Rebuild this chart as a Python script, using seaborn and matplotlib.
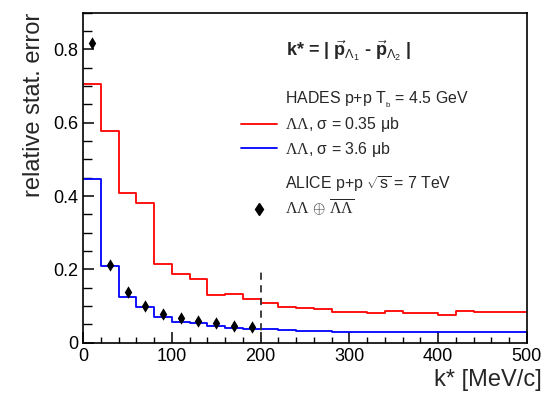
import numpy as np
import seaborn as sns
import matplotlib.pyplot as plt
from matplotlib.lines import Line2D
from matplotlib.ticker import MultipleLocator

# Data
bin_edges = list(range(0, 520, 20))
bin_centers = list(range(10, 500, 20))

hades_035 = [0.706, 0.578, 0.409, 0.380, 0.215, 0.188, 0.173, 0.130, 0.133, 0.120,
             0.108, 0.098, 0.095, 0.092, 0.084, 0.084, 0.082, 0.088, 0.082, 0.082,
             0.075, 0.088, 0.083, 0.083, 0.085]
hades_36 = [0.448, 0.210, 0.126, 0.098, 0.070, 0.058, 0.053, 0.046, 0.040, 0.038,
            0.037, 0.035, 0.033, 0.031, 0.030, 0.030, 0.029, 0.029, 0.029, 0.029,
            0.029, 0.029, 0.029, 0.029, 0.029]

alice_k = [10, 30, 50, 70, 90, 110, 130, 150, 170, 190]
alice_err = [0.817, 0.212, 0.138, 0.101, 0.079, 0.067, 0.059, 0.053, 0.046, 0.044]
alice_unc = [0.010, 0.008, 0.007, 0.007, 0.006, 0.006, 0.006, 0.006, 0.006, 0.006]

cut_k = 200
cut_top = 0.2

sns.set_theme(style="ticks")
plt.rcParams['font.family'] = ['Liberation Sans', 'DejaVu Sans']
plt.rcParams['mathtext.fontset'] = 'custom'
plt.rcParams['mathtext.rm'] = 'Liberation Sans'
plt.rcParams['mathtext.it'] = 'Liberation Sans:italic'
plt.rcParams['mathtext.bf'] = 'Liberation Sans:bold'
plt.rcParams['mathtext.sf'] = 'Liberation Serif'

fig = plt.figure(figsize=(5.47, 4), dpi=100)
ax = fig.add_axes([0.152, 0.143, 0.811, 0.825])

sns.histplot(x=bin_centers, weights=hades_035, bins=bin_edges, element="step",
             fill=False, color="#ff0000", linewidth=1.3, ax=ax)
sns.histplot(x=bin_centers, weights=hades_36, bins=bin_edges, element="step",
             fill=False, color="#0000ff", linewidth=1.3, ax=ax)

ax.errorbar(alice_k, alice_err, yerr=alice_unc, fmt="none", ecolor="black",
            elinewidth=1.0, capsize=0)
sns.scatterplot(x=alice_k, y=alice_err, marker="d", color="black", s=40,
                edgecolor="black", linewidth=0, ax=ax, zorder=5)

ax.vlines(cut_k, 0, cut_top, colors="#333333", linestyles=(0, (4, 3)), linewidth=1.3)

ax.set_xlim(0, 500)
ax.set_ylim(0, 0.9)
ax.xaxis.set_major_locator(MultipleLocator(100))
ax.xaxis.set_minor_locator(MultipleLocator(20))
ax.yaxis.set_major_locator(MultipleLocator(0.2))
ax.yaxis.set_minor_locator(MultipleLocator(0.05))
ax.set_yticks([0, 0.2, 0.4, 0.6, 0.8])
ax.set_yticklabels(["0", "0.2", "0.4", "0.6", "0.8"])
ax.tick_params(which="both", direction="in", bottom=True, left=True,
               top=False, right=False, labelsize=13, colors="black")
ax.tick_params(axis="x", which="major", length=8, width=1.1)
ax.tick_params(axis="x", which="minor", length=4.5, width=1.0)
ax.tick_params(axis="y", which="major", length=8, width=1.1)
ax.tick_params(axis="y", which="minor", length=6.5, width=1.0)
for s in ax.spines.values():
    s.set_color("black")
    s.set_linewidth(1.2)

ax.set_xlabel("k* [MeV/c]", fontsize=17, ha="right")
ax.xaxis.set_label_coords(1.033, -0.08)
ax.set_ylabel("relative stat. error", fontsize=17, loc="top", labelpad=6)

ax.text(0.457, 0.885, r"k* = | $\vec{\mathbf{p}}_{\Lambda_1}$ - $\vec{\mathbf{p}}_{\Lambda_2}$ |",
        transform=ax.transAxes, fontsize=13, fontweight="bold", va="center", ha="left")

blank = Line2D([], [], linestyle="none")
hades_handles = [blank,
                 Line2D([], [], color="#ff0000", linewidth=1.3),
                 Line2D([], [], color="#0000ff", linewidth=1.3)]
hades_labels = [r"HADES p+p T$_{_{\rm b}}$ = 4.5 GeV",
                r"$\mathsf{\Lambda\Lambda}$, σ = 0.35 μb",
                r"$\mathsf{\Lambda\Lambda}$, σ = 3.6 μb"]
leg1 = ax.legend(hades_handles, hades_labels, loc="upper left",
                 bbox_to_anchor=(0.356, 0.768), frameon=False, fontsize=11.4,
                 handlelength=2.3, handletextpad=0.5, borderpad=0,
                 borderaxespad=0, labelspacing=0.35)
ax.add_artist(leg1)

alice_handles = [blank,
                 Line2D([], [], linestyle="none", marker="d", color="black",
                        markersize=6)]
alice_labels = [r"ALICE p+p $\sqrt{\rm s}$ = 7 TeV",
                r"$\mathsf{\Lambda\Lambda}$ $\oplus$ $\overline{\mathsf{\Lambda\Lambda}}$"]
ax.legend(alice_handles, alice_labels, loc="upper left",
          bbox_to_anchor=(0.356, 0.511), frameon=False, fontsize=11.4,
          handlelength=2.3, handletextpad=0.5, borderpad=0,
          borderaxespad=0, labelspacing=0.25)

fig.savefig("out.png", dpi=100)
